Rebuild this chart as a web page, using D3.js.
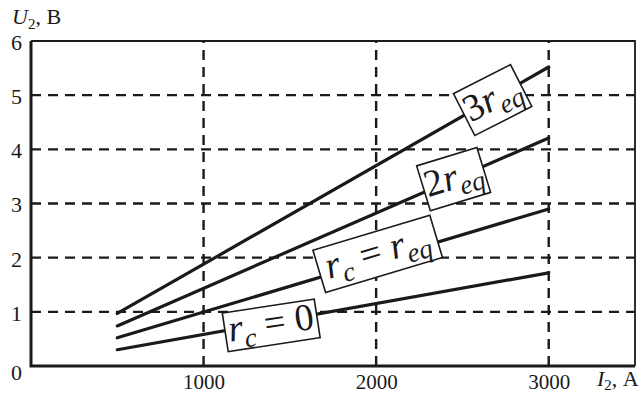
<!DOCTYPE html>
<html>
<head>
<meta charset="utf-8">
<script src="https://cdn.jsdelivr.net/npm/d3@7"></script>
<style>
  html, body { margin: 0; padding: 0; background: #fff; }
  svg { display: block; }
  text { font-family: "Liberation Serif", "Times New Roman", serif; fill: #1a1a1a; }
</style>
</head>
<body>
<svg id="chart" width="642" height="396"></svg>
<script>
// ---- data ----
const currents = [500, 3000];               // I2, A
const seriesNames = ["3req", "2req", "req", "zero"];
const v3req = [0.97, 5.52];
const v2req = [0.74, 4.21];
const vReq  = [0.52, 2.90];
const vZero = [0.30, 1.72];
const xTicks = [1000, 2000, 3000];
const yTicks = [0, 1, 2, 3, 4, 5, 6];

const series = [v3req, v2req, vReq, vZero];

// ---- layout ----
const svg = d3.select("#chart");
const x = d3.scaleLinear().domain([0, 3500]).range([31, 635]);
const y = d3.scaleLinear().domain([0, 6]).range([366, 41]);

const ink = "#1a1a1a";

// grid (dashed)
const grid = svg.append("g").attr("stroke", ink).attr("stroke-width", 2.4)
  .attr("stroke-dasharray", "10,7").attr("fill", "none");
grid.selectAll("line.h").data(yTicks.filter(d => d > 0 && d < 6)).join("line")
  .attr("x1", x(0)).attr("x2", x(3500))
  .attr("y1", d => y(d)).attr("y2", d => y(d));
grid.selectAll("line.v").data(xTicks).join("line")
  .attr("class", "v")
  .attr("x1", d => x(d)).attr("x2", d => x(d))
  .attr("y1", y(0)).attr("y2", y(6));

// frame
svg.append("path")
  .attr("d", `M${x(0)},${y(6)}H${x(3500)}V${y(0)}`)
  .attr("fill", "none").attr("stroke", ink).attr("stroke-width", 1.8);
svg.append("path")
  .attr("d", `M${x(0)},${y(6)}V${y(0)}H${x(3500)}`)
  .attr("fill", "none").attr("stroke", ink).attr("stroke-width", 3);

// axes via d3 (labels only)
const yAxis = d3.axisLeft(y).tickValues(yTicks).tickSize(0).tickPadding(9).tickFormat(d3.format("d"));
const yg = svg.append("g").attr("transform", `translate(${x(0)},0)`).call(yAxis);
yg.select(".domain").remove();
yg.selectAll("text").attr("font-size", 22).attr("font-family", "Liberation Serif").attr("fill", ink)
  .attr("dy", d => d === 0 ? "0.6em" : "0.38em");

const xAxis = d3.axisBottom(x).tickValues(xTicks).tickSize(0).tickPadding(8).tickFormat(d3.format("d"));
const xg = svg.append("g").attr("transform", `translate(0,${y(0)})`).call(xAxis);
xg.select(".domain").remove();
xg.selectAll("text").attr("font-size", 21).attr("font-family", "Liberation Serif").attr("fill", ink)
  .attr("dy", "0.7em");

// axis titles
const yt = svg.append("text").attr("x", 12).attr("y", 24).attr("font-size", 22);
yt.append("tspan").attr("font-style", "italic").text("U");
yt.append("tspan").attr("font-size", 15).attr("dy", 5).text("2");
yt.append("tspan").attr("dy", -5).text(", В");

const xt = svg.append("text").attr("x", 597).attr("y", 386).attr("font-size", 22);
xt.append("tspan").attr("font-style", "italic").text("I");
xt.append("tspan").attr("font-size", 15).attr("dy", 4).text("2");
xt.append("tspan").attr("dy", -4).text(", А");

// lines
const line = d3.line().x((d, i) => x(currents[i])).y(d => y(d));
svg.append("g").selectAll("path").data(series).join("path")
  .attr("d", d => line(d))
  .attr("fill", "none").attr("stroke", ink).attr("stroke-width", 3.2).attr("stroke-linecap", "round");

// labels in rotated boxes
const labels = [
  { key: "3req", I: 2675, V: 4.91, angle: -27, w: 64, h: 47,
    parts: [["3", false, false], ["r", true, false], ["eq", true, true]] },
  { key: "2req", I: 2449, V: 3.45, angle: -17, w: 63, h: 47,
    parts: [["2", false, false], ["r", true, false], ["eq", true, true]] },
  { key: "req", I: 2009, V: 2.07, angle: -16.7, w: 122, h: 44,
    parts: [["r", true, false], ["c", true, true], [" = ", false, false], ["r", true, false], ["eq", true, true]] },
  { key: "zero", I: 1392, V: 0.75, angle: -8.7, w: 93, h: 39,
    parts: [["r", true, false], ["c", true, true], [" = 0", false, false]] }
];

const lg = svg.append("g").selectAll("g").data(labels).join("g")
  .attr("transform", d => `translate(${x(d.I)},${y(d.V)}) rotate(${d.angle})`);
lg.append("rect")
  .attr("x", d => -d.w / 2).attr("y", d => -d.h / 2)
  .attr("width", d => d.w).attr("height", d => d.h)
  .attr("fill", "#fff").attr("stroke", ink).attr("stroke-width", 1.6);
lg.each(function(d) {
  const t = d3.select(this).append("text")
    .attr("text-anchor", "middle").attr("x", 0).attr("y", 10)
    .attr("font-size", 38).attr("xml:space", "preserve");
  let sub = false;
  d.parts.forEach(p => {
    const ts = t.append("tspan").text(p[0])
      .attr("font-style", p[1] ? "italic" : "normal");
    if (p[2]) { ts.attr("font-size", 27); if (!sub) ts.attr("dy", 8); sub = true; }
    else { if (sub) ts.attr("dy", -8); sub = false; }
  });
});
</script>
</body>
</html>
